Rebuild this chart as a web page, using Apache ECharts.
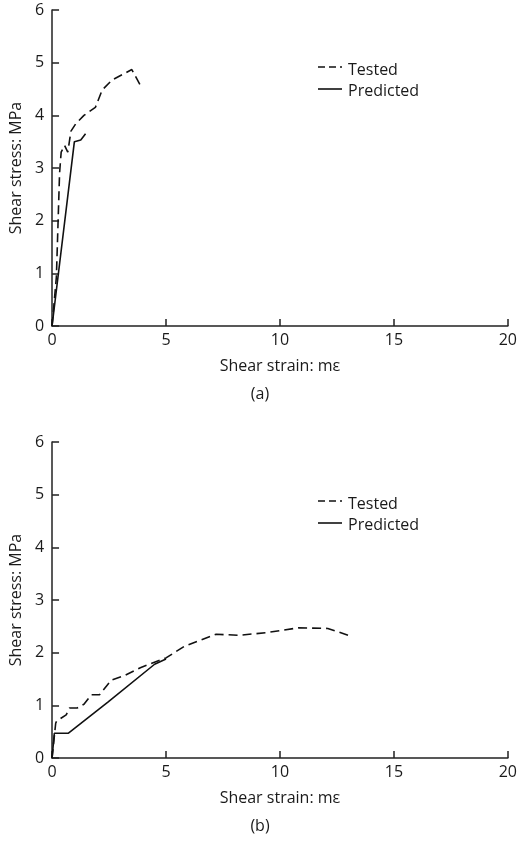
<!DOCTYPE html><html><head><meta charset="utf-8"><script src="https://cdn.jsdelivr.net/npm/echarts@6/dist/echarts.min.js"></script>
<style>html,body{margin:0;padding:0;background:#fff}#c{width:520px;height:844px}</style></head><body><div id="c"></div><script>
const testedA=[[0,0],[0.19,0.93],[0.33,2.9],[0.4,3.3],[0.55,3.43],[0.69,3.3],[0.83,3.7],[1.04,3.84],[1.4,4.0],[1.9,4.15],[2.2,4.48],[2.63,4.67],[3.2,4.8],[3.5,4.87],[3.9,4.55]];
const predictedA=[[0,0],[0.98,3.5],[1.26,3.53],[1.47,3.65]];
const testedB=[[0,0],[0.16,0.66],[0.2,0.7],[0.62,0.82],[0.77,0.95],[1.1,0.95],[1.4,1.02],[1.72,1.2],[2.08,1.2],[2.6,1.48],[3.2,1.57],[3.9,1.72],[5,1.9],[5.8,2.12],[7.2,2.35],[8.2,2.33],[9.4,2.38],[10.8,2.47],[12.1,2.46],[13,2.33]];
const predictedB=[[0,0],[0.1,0.47],[0.72,0.47],[2.45,1.06],[4.5,1.78],[5,1.88]];
const xTicks=[0,5,10,15,20];
const yTicks=[0,1,2,3,4,5,6];
const F='Open Sans';
const txt={color:'#1a1a1a',fontFamily:F,fontSize:16};
function xAx(i){return {type:'value',gridIndex:i,min:0,max:20,interval:5,name:'Shear strain: mε',nameLocation:'middle',nameGap:32,nameTextStyle:txt,
 axisLine:{lineStyle:{color:'#222',width:1.5}},axisTick:{inside:true,length:7,lineStyle:{color:'#222',width:1.5}},axisLabel:Object.assign({margin:6},txt),splitLine:{show:false}};}
function yAx(i){return {type:'value',gridIndex:i,min:0,max:6,interval:1,name:'Shear stress: MPa',nameLocation:'middle',nameGap:28,nameTextStyle:txt,
 axisLine:{show:true,lineStyle:{color:'#222',width:1.5}},axisTick:{show:true,inside:true,length:7,lineStyle:{color:'#222',width:1.5}},axisLabel:Object.assign({margin:8},txt),splitLine:{show:false}};}
function ser(name,data,i,dash){return {name:name,type:'line',xAxisIndex:i,yAxisIndex:i,data:data,symbol:'none',lineStyle:{color:'#111',width:1.6,type:dash?[9,5]:'solid'},itemStyle:{color:'#111'}};}
const lg=(top,names)=>({top:top,left:310,orient:'vertical',icon:'rect',itemWidth:28,itemHeight:4,itemGap:5,itemStyle:{opacity:0},textStyle:txt,data:names});
const ln=(y,dash)=>({type:'line',shape:{x1:318,y1:y,x2:342,y2:y},style:{stroke:'#111',lineWidth:1.6,lineDash:dash?[7,4]:null}});
const chart=echarts.init(document.getElementById('c'));
chart.setOption({animation:false,
 grid:[{left:49,right:10,top:10,bottom:518},{left:49,right:10,top:442,bottom:86}],
 xAxis:[xAx(0),xAx(1)],yAxis:[yAx(0),yAx(1)],
 legend:[lg(57,['Tested','Predicted']),lg(491,['Tested ','Predicted '])],
 series:[ser('Tested',testedA,0,true),ser('Predicted',predictedA,0,false),ser('Tested ',testedB,1,true),ser('Predicted ',predictedB,1,false)],
 graphic:[ln(67,true),ln(89,false),ln(501,true),ln(523,false),
  {type:'text',left:'center',top:386,style:{text:'(a)',fill:'#1a1a1a',font:'16px Open Sans'}},
  {type:'text',left:'center',top:818,style:{text:'(b)',fill:'#1a1a1a',font:'16px Open Sans'}}]
});
</script></body></html>
